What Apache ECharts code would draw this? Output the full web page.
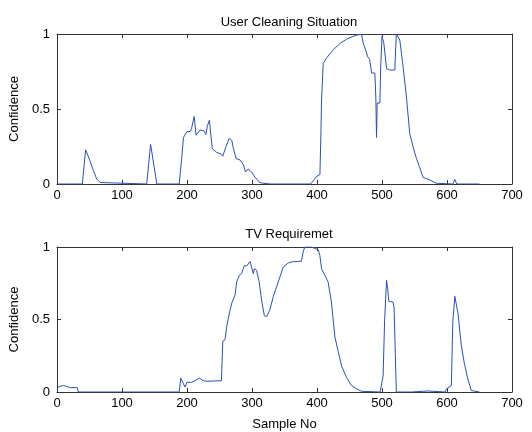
<!DOCTYPE html>
<html>
<head>
<meta charset="utf-8">
<script src="https://cdn.jsdelivr.net/npm/echarts@6/dist/echarts.min.js"></script>
<style>html,body{margin:0;padding:0;background:#fff;}#c{width:532px;height:432px;}</style>
</head>
<body>
<div id="c"></div>
<script>
// Data
const titles = ['User Cleaning Situation', 'TV Requiremet'];
const xTicks = [0, 100, 200, 300, 400, 500, 600, 700];
const yTicks = [0, 0.5, 1];

const cleaningSample = [0,39,44,48.6,56,61,66.5,68,138,144,153.6,188,192,194.6,197,200,205,207,211,214,220,226,229,231.5,234.5,236.5,239,246,253,255,260,265,269,271,275.5,281.6,286.7,290,294,299.5,304.6,312,317.5,328.7,390,394,399,404.5,406,407,409.6,414.7,425,435,445.5,455.7,461,468.5,471,476,477.7,481,484,489,490.5,491.6,492.6,496.7,498,500,502.8,507,512,519.7,522,525,527.4,532.5,537.6,542.7,548,553,558,563,573.5,583.7,586,609,612,615,650];
const cleaningConf = [0,0,0.228,0.18,0.09,0.034,0.01,0,0,0.264,0,0,0.18,0.31,0.30,0.35,0.35,0.37,0.45,0.325,0.36,0.355,0.33,0.39,0.425,0.335,0.235,0.21,0.20,0.185,0.25,0.305,0.29,0.245,0.17,0.16,0.13,0.08,0.10,0.08,0.045,0.01,0.005,0,0,0.02,0.05,0.063,0.335,0.56,0.805,0.84,0.895,0.935,0.966,0.984,0.993,0.998,0.94,0.88,0.85,0.83,0.74,0.74,0.58,0.31,0.54,0.54,0.78,0.985,0.94,0.77,0.76,0.76,1.0,1.0,0.96,0.78,0.58,0.335,0.245,0.17,0.11,0.045,0.027,0.005,0,0,0.03,0,0];

const tvSample = [0,5,10,15,20.5,31,33,188,190.5,194.6,197,200,202,207,212.5,219,225,230,253,255,258.5,261,263.7,266,269,271,274,276.5,280.6,284,288,292,297,299.5,302,303.6,307,311,315,319,322.6,327.7,332.8,338,343,348,355.8,363.5,376,379,381.5,392,397,402,404.5,407,412,417,422,427.5,432.6,437.8,445.5,453,460.8,468.5,471,497,499,501.7,504,507,508.7,510.5,517,518.6,520.6,522,545,547,571,573,597,599,606.7,609,612,614.5,617,622,627,632,637.5,639,650];
const tvConf = [0.027,0.04,0.045,0.038,0.03,0.03,0,0,0.096,0.056,0.034,0.067,0.078,0.067,0.078,0.096,0.078,0.074,0.078,0.35,0.36,0.45,0.51,0.56,0.615,0.626,0.67,0.76,0.805,0.817,0.87,0.87,0.9,0.89,0.817,0.85,0.84,0.76,0.626,0.526,0.52,0.57,0.66,0.727,0.794,0.861,0.89,0.899,0.902,0.973,1.0,1.0,0.99,0.98,0.94,0.85,0.805,0.76,0.626,0.38,0.28,0.18,0.10,0.045,0.022,0.005,0,0,0.01,0.11,0.49,0.77,0.716,0.626,0.62,0.58,0.246,0,0,0.007,0.007,0,0,0.02,0.045,0.49,0.66,0.65,0.54,0.32,0.19,0.09,0.01,0,0];

const FONT = 'Liberation Sans, Arial, sans-serif';
const AX = '#333';
const LINE = '#2d4fb8';

function pairs(xs, ys) { return xs.map((x, i) => [x, ys[i]]); }

function xAx(gi, pos, show, name) {
  return {
    type: 'value', gridIndex: gi, position: pos,
    min: xTicks[0], max: xTicks[xTicks.length - 1], interval: xTicks[1] - xTicks[0],
    axisLine: { show: true, onZero: false, lineStyle: { color: AX, width: 1 } },
    axisTick: { show: true, inside: true, length: 4, lineStyle: { color: AX } },
    axisLabel: { show: show, color: '#000', fontSize: 13, fontFamily: FONT, margin: 5 },
    splitLine: { show: false },
    name: name || '', nameLocation: 'middle', nameGap: 26,
    nameTextStyle: { color: '#000', fontSize: 13, fontFamily: FONT }
  };
}
function yAx(gi, pos, show) {
  return {
    type: 'value', gridIndex: gi, position: pos,
    min: yTicks[0], max: yTicks[yTicks.length - 1], interval: yTicks[1] - yTicks[0],
    axisLine: { show: true, onZero: false, lineStyle: { color: AX, width: 1 } },
    axisTick: { show: true, inside: true, length: 4, lineStyle: { color: AX } },
    axisLabel: { show: show, color: '#000', fontSize: 13, fontFamily: FONT, margin: 7 },
    splitLine: { show: false },
    name: show ? 'Confidence' : '', nameLocation: 'middle', nameGap: 29, nameRotate: 90,
    nameTextStyle: { color: '#000', fontSize: 13, fontFamily: FONT }
  };
}

const chart = echarts.init(document.getElementById('c'), null, { renderer: 'canvas' });
chart.setOption({
  animation: false,
  backgroundColor: '#fff',
  title: [
    { text: titles[0], left: 284, top: 11, textAlign: 'center', textStyle: { fontSize: 13, fontWeight: 'normal', color: '#000', fontFamily: FONT } },
    { text: titles[1], left: 284, top: 223, textAlign: 'center', textStyle: { fontSize: 13, fontWeight: 'normal', color: '#000', fontFamily: FONT } }
  ],
  grid: [
    { left: 57, top: 34, width: 455, height: 150 },
    { left: 57, top: 247, width: 455, height: 149 }
  ],
  xAxis: [xAx(0, 'bottom', true), xAx(0, 'top', false), xAx(1, 'bottom', true, 'Sample No'), xAx(1, 'top', false)],
  yAxis: [yAx(0, 'left', true), yAx(0, 'right', false), yAx(1, 'left', true), yAx(1, 'right', false)],
  series: [
    { type: 'line', xAxisIndex: 0, yAxisIndex: 0, data: pairs(cleaningSample, cleaningConf), showSymbol: false, lineStyle: { color: LINE, width: 1 }, itemStyle: { color: LINE } },
    { type: 'line', xAxisIndex: 2, yAxisIndex: 2, data: pairs(tvSample, tvConf), showSymbol: false, lineStyle: { color: LINE, width: 1 }, itemStyle: { color: LINE } }
  ]
});
</script>
</body>
</html>
